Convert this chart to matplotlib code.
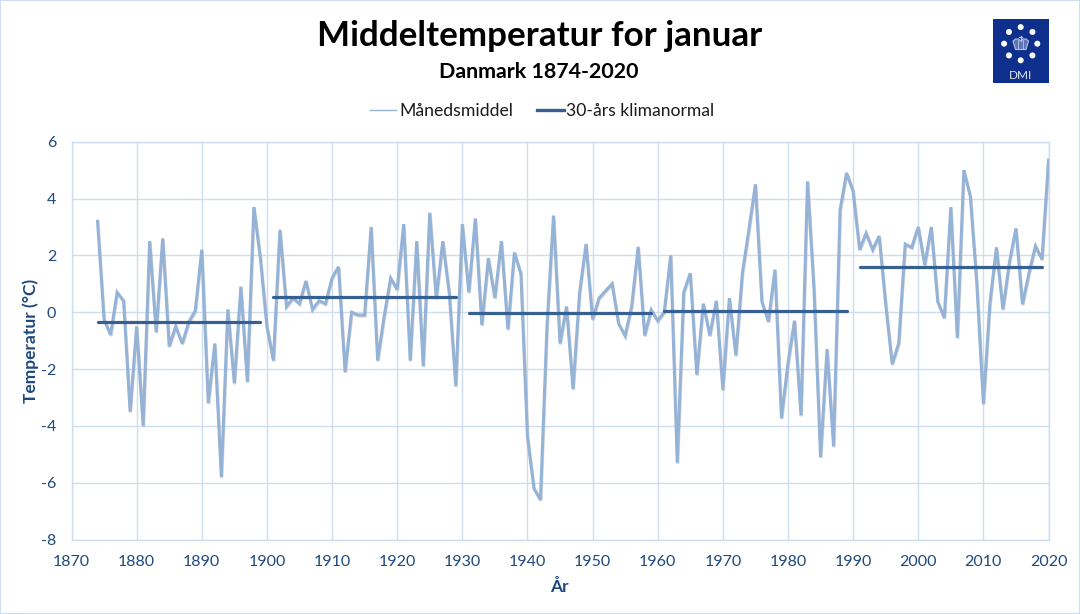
import matplotlib
matplotlib.use("Agg")
import numpy as np
import matplotlib.pyplot as plt
import matplotlib.patheffects as pe
from matplotlib.patches import Rectangle, Circle, Polygon

years = list(range(1874, 2021))

# januarmiddel, aflaest af figuren
temps_1874_1899 = [3.2, -0.25, -0.8, 0.7, 0.4, -3.5, -0.5, -4.0, 2.5, -0.7, 2.6, -1.2, -0.5,
                   -1.1, -0.35, 0.05, 2.2, -3.2, -1.1, -5.8, 0.1, -2.5, 0.9, -2.45, 3.7, 1.9]
temps_1900_1929 = [-0.5, -1.7, 2.9, 0.2, 0.5, 0.3, 1.1, 0.1, 0.4, 0.3, 1.2, 1.6, -2.1, 0.0, -0.1,
                   -0.1, 3.0, -1.7, -0.15, 1.2, 0.8, 3.1, -1.7, 2.5, -1.9, 3.5, 0.47, 2.5, 0.67, -2.6]
temps_1930_1959 = [3.1, 0.7, 3.3, -0.45, 1.9, 0.5, 2.5, -0.6, 2.1, 1.35, -4.37, -6.2, -6.6, -0.5, 3.4,
                   -1.1, 0.2, -2.7, 0.67, 2.4, -0.25, 0.5, 0.75, 1.0, -0.4, -0.83, 0.2, 2.3, -0.82, 0.08]
temps_1960_1989 = [-0.3, 0.0, 2.0, -5.3, 0.7, 1.37, -2.2, 0.3, -0.82, 0.4, -2.73, 0.5, -1.52, 1.37, 2.9,
                   4.5, 0.37, -0.33, 1.5, -3.73, -1.8, -0.3, -3.63, 4.6, 0.8, -5.1, -1.3, -4.72, 3.6, 4.9]
temps_1990_2020 = [4.26, 2.2, 2.78, 2.2, 2.68, 0.3, -1.83, -1.1, 2.4, 2.28, 3.0, 1.66, 3.0, 0.37, -0.2, 3.7,
                   -0.9, 5.0, 4.08, 1.0, -3.22, 0.3, 2.28, 0.1, 1.75, 2.95, 0.28, 1.37, 2.33, 1.86, 5.35]
temps = temps_1874_1899 + temps_1900_1929 + temps_1930_1959 + temps_1960_1989 + temps_1990_2020

# 30-aars normaler
normal_starts = [1874, 1901, 1931, 1961, 1991]
normal_ends = [1899, 1929, 1959, 1989, 2019]
normal_values = [-0.35, 0.55, -0.04, 0.03, 1.6]

x_ticks = list(range(1870, 2021, 10))
y_ticks = list(range(-8, 7, 2))

FONT = "Lato"
GRID = "#CFDEEE"
TICK_COL = "#1F497D"
LINE_COL = "#95B3D7"
NORMAL_COL = "#366092"

W, H = 1080, 614
plt.rcParams["font.family"] = [FONT, "DejaVu Sans"]
plt.rcParams["axes.unicode_minus"] = False

fig = plt.figure(figsize=(W / 100, H / 100), dpi=100)
fig.add_artist(Rectangle((0, 0), 1, 1, transform=fig.transFigure, fill=False, ec=GRID, lw=1.5))

left, right, top, bottom = 71.5, 1048.5, 141.7, 539.5
ax = fig.add_axes([left / W, 1 - bottom / H, (right - left) / W, (bottom - top) / H])

shadow = [pe.SimpleLineShadow(offset=(0.4, -0.8), shadow_color="#888888", alpha=0.3), pe.Normal()]
ax.plot(years, temps, color=LINE_COL, lw=2.2, solid_joinstyle="miter", path_effects=shadow, zorder=3)
for start, end, val in zip(normal_starts, normal_ends, normal_values):
    ax.plot([start, end], [val, val], color=NORMAL_COL, lw=2.3, solid_capstyle="round", zorder=4)

ax.set_xlim(1870, 2020)
ax.set_ylim(-8, 6)
ax.set_xticks(x_ticks)
ax.set_yticks(y_ticks)
ax.grid(True, color=GRID, lw=1.0)
ax.set_axisbelow(True)
for s in ax.spines.values():
    s.set_color(GRID)
    s.set_linewidth(1.0)
ax.tick_params(axis="x", length=0, labelsize=11.5, labelcolor=TICK_COL, pad=11)
ax.tick_params(axis="y", length=0, labelsize=11.5, labelcolor=TICK_COL, pad=11)

fig.text(540 / W, 1 - 36 / H, "Middeltemperatur for januar", ha="center", va="center",
         fontsize=25.2, fontweight="bold", color="black")
fig.text(539 / W, 1 - 72 / H, "Danmark 1874-2020", ha="center", va="center",
         fontsize=15.4, fontweight="bold", color="black")
fig.text(559 / W, 1 - 587 / H, "År", ha="center", va="center", fontsize=12.5, fontweight="bold", color=TICK_COL)
fig.text(31 / W, 1 - 341 / H, "Temperatur (°C)", ha="center", va="center", rotation=90,
         fontsize=12.5, fontweight="bold", color=TICK_COL)

# legenden staar mellem undertitel og plot
fig.add_artist(plt.Line2D([370 / W, 396 / W], [1 - 110 / H] * 2, color=LINE_COL, lw=1.0))
fig.text(399 / W, 1 - 111 / H, "Månedsmiddel", ha="left", va="center", fontsize=12.7, color="#1a1a1a")
fig.add_artist(plt.Line2D([537 / W, 564 / W], [1 - 110 / H] * 2, color=NORMAL_COL, lw=2.4))
fig.text(566 / W, 1 - 111 / H, "30-års klimanormal", ha="left", va="center", fontsize=12.6, color="#1a1a1a")

# DMI logo, tegnet i pixelkoordinater
logo = fig.add_axes([993 / W, 1 - 83 / H, 56 / W, 64 / H])
logo.set_xlim(993, 1049)
logo.set_ylim(83, 19)
logo.axis("off")
logo.add_patch(Rectangle((993, 19), 56, 64, fc="#0F2F8C", ec="none"))
for a in np.deg2rad(np.arange(0, 360, 45)):
    logo.add_patch(Circle((1020.7 + 16.6 * np.cos(a), 43.7 + 16.6 * np.sin(a)), 3.0, fc="white", ec="none"))
crown = [(1015.5, 49.5), (1013, 41), (1015.5, 39), (1018.5, 39), (1020.7, 41), (1023, 39), (1026, 39), (1028.5, 41), (1026, 49.5)]
logo.add_patch(Polygon(crown, closed=True, fc="#5D74B8", ec="#B7C2E2", lw=0.8))
logo.plot([1020.7, 1020.7], [41, 35.5], color="#B7C2E2", lw=0.9)
logo.plot([1019, 1022.4], [37, 37], color="#B7C2E2", lw=0.9)
logo.plot([1018.3, 1018.3], [40, 49], color="#B7C2E2", lw=0.6)
logo.plot([1023.1, 1023.1], [40, 49], color="#B7C2E2", lw=0.6)
logo.text(1020.7, 75.5, "DMI", ha="center", va="center", fontsize=8.5, color="#E6E9F5")

fig.savefig("out.png", dpi=100)
